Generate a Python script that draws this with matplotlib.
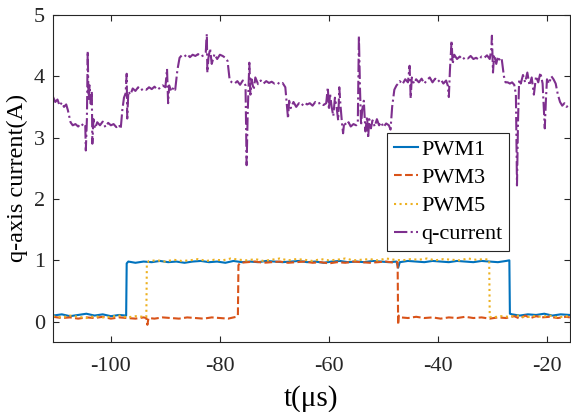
import matplotlib
matplotlib.use("Agg")
import matplotlib.pyplot as plt

plt.rcParams['font.family'] = ['Liberation Serif', 'DejaVu Serif']
plt.rcParams['axes.unicode_minus'] = False

# PWM1 (blue, solid)
t1 = [-110.6, -109, -107.5, -106, -104.5, -103, -101.5, -100, -98.5, -97.2,
      -97.1, -96.8, -95.5, -94, -92.5, -91, -89.5, -88, -86.5, -85,
      -83.5, -82, -80.5, -79, -77.5, -76, -74.5, -73, -71.5, -70,
      -68.5, -67, -65.5, -64, -62.5, -61, -59.5, -58, -56.5, -55,
      -53.5, -52, -50.5, -49, -47.6, -47.3, -47.0, -45.5, -44, -42.5,
      -41, -39.5, -38, -36.5, -35, -33.5, -32, -30.5, -29, -27.5,
      -26.9, -26.8, -26.4, -25, -23.5, -22, -20.5, -19, -17.5, -15.8]
v1 = [0.10, 0.12, 0.09, 0.11, 0.13, 0.10, 0.12, 0.09, 0.11, 0.10,
      0.95, 0.98, 0.96, 0.98, 0.97, 0.99, 0.97, 0.98, 0.96, 0.98,
      0.99, 0.97, 0.98, 0.96, 0.99, 0.97, 0.98, 0.97, 0.99, 0.98,
      0.97, 0.98, 0.99, 0.97, 0.98, 0.96, 0.98, 0.99, 0.97, 0.98,
      0.97, 0.99, 0.98, 0.97, 0.98, 0.88, 0.97, 0.99, 0.98, 0.97,
      0.99, 0.98, 0.97, 0.99, 0.98, 0.97, 0.99, 0.98, 0.97, 0.99,
      1.00, 0.13, 0.12, 0.10, 0.12, 0.11, 0.13, 0.10, 0.12, 0.11]

# PWM3 (orange, dashed)
t3 = [-110.6, -109, -107.5, -106, -104.5, -103, -101.5, -100, -98.5, -97,
      -95.5, -94, -93.5, -93.3, -93.1, -92, -90.5, -89, -87.5, -86,
      -84.5, -83, -81.5, -80, -78.5, -77, -76.7, -76.6, -76.3, -75,
      -73.5, -72, -70.5, -69, -67.5, -66, -64.5, -63, -61.5, -60,
      -58.5, -57, -55.5, -54, -52.5, -51, -49.5, -48, -47.4, -47.3,
      -47.2, -46.8, -45.5, -44, -42.5, -41, -39.5, -38, -36.5, -35,
      -33.5, -32, -30.5, -29, -27.5, -26, -25, -24, -23, -22,
      -21, -19.5, -18, -16.5, -15.8]
v3 = [0.08, 0.06, 0.07, 0.05, 0.07, 0.06, 0.08, 0.05, 0.07, 0.06,
      0.05, 0.07, 0.06, -0.05, 0.06, 0.05, 0.07, 0.06, 0.05, 0.07,
      0.06, 0.05, 0.07, 0.06, 0.05, 0.08, 0.10, 0.92, 0.96, 0.97,
      0.98, 0.96, 0.97, 0.98, 0.96, 0.97, 0.98, 0.96, 0.97, 0.95,
      0.97, 0.96, 0.98, 0.97, 0.96, 0.97, 0.98, 0.96, 0.97, -0.05,
      0.10, 0.07, 0.06, 0.08, 0.06, 0.07, 0.05, 0.07, 0.06, 0.08,
      0.06, 0.07, 0.05, 0.07, 0.06, 0.09, 0.05, 0.10, 0.06, 0.09,
      0.07, 0.08, 0.06, 0.08, 0.07]

# PWM5 (yellow, dotted)
t5 = [-110.6, -109, -107.5, -106, -104.5, -103, -101.5, -100, -98.5, -97,
      -95.5, -94, -93.5, -93.4, -93.0, -91.5, -90, -88.5, -87, -85.5,
      -84, -82.5, -81, -79.5, -78, -76.5, -75, -73.5, -72, -70.5,
      -69, -67.5, -66, -64.5, -63, -61.5, -60, -58.5, -57, -55.5,
      -54, -52.5, -51, -49.5, -48, -46.5, -45, -43.5, -42, -40.5,
      -39, -37.5, -36, -34.5, -33, -31.5, -30.6, -30.5, -30, -28.5,
      -27, -25.5, -24, -22.5, -21, -19.5, -18, -16.5, -15.8]
v5 = [0.09, 0.07, 0.10, 0.08, 0.06, 0.09, 0.07, 0.08, 0.10, 0.07,
      0.09, 0.08, 0.08, 0.95, 0.99, 1.00, 0.98, 1.01, 0.99, 1.00,
      1.02, 0.99, 1.01, 1.00, 1.03, 1.01, 1.00, 1.02, 0.99, 1.01,
      1.03, 1.00, 1.02, 1.01, 0.99, 1.02, 1.00, 1.01, 1.03, 1.00,
      1.01, 1.02, 1.00, 1.03, 1.01, 1.00, 1.02, 1.01, 1.03, 1.00,
      1.02, 1.01, 1.00, 1.03, 1.01, 1.02, 1.01, 0.08, 0.07, 0.09,
      0.08, 0.10, 0.07, 0.09, 0.08, 0.10, 0.07, 0.09, 0.08]

# q-axis current (purple, dash-dot)
tq = [-110.6, -110.2, -109.8, -109.4, -109.0, -108.6, -108.2, -107.9,
      -107.4, -107.0, -106.5, -106.0, -105.5, -105.0, -104.7,
      -104.6, -104.4, -104.25, -104.1, -103.9, -103.7, -103.5, -103.4, -103.2, -102.9,
      -102.5, -102.0, -101.5, -101.0, -100.5, -100.0, -99.5, -99.0, -98.5, -98.2,
      -97.9, -97.6, -97.3, -97.1, -97.0, -96.8, -96.4, -96.0, -95.5, -95.0,
      -94.5, -94.0, -93.5, -93.0, -92.5, -92.0, -91.5, -91.0, -90.5, -90.0,
      -89.7, -89.5, -89.3, -88.9, -88.5, -88.2,
      -87.8, -87.4, -87.0, -86.5, -86.0, -85.5, -85.0, -84.5, -84.0, -83.5,
      -83.0, -82.6, -82.4, -82.3, -82.1, -81.8, -81.5, -81.0, -80.5, -80.0,
      -79.5, -79.0, -78.6,
      -78.2, -77.8, -77.3, -76.8, -76.3, -75.8, -75.3, -75.1, -74.9, -74.6,
      -74.4, -74.2, -73.8, -73.5, -73.0, -72.5, -72.0, -71.5, -71.0, -70.5,
      -70.0, -69.5, -69.0, -68.5, -68.0,
      -67.7, -67.5, -67.3, -67.0, -66.5, -66.0, -65.5, -65.0, -64.5, -64.0,
      -63.5, -63.0, -62.5, -62.0, -61.5, -61.0, -60.5,
      -60.2, -60.0, -59.8, -59.5, -59.2, -58.9, -58.6, -58.3, -58.1, -57.9,
      -57.6, -57.4, -57.2, -56.8, -56.4, -56.0, -55.5, -55.0, -54.7, -54.5,
      -54.3, -54.1, -53.9, -53.6, -53.3, -53.0, -52.8, -52.6, -52.3, -52.0,
      -51.6, -51.2, -50.8, -50.4, -50.0, -49.5, -49.0, -48.7,
      -48.4, -48.0, -47.6, -47.3, -47.0, -46.5, -46.0, -45.5, -45.2, -45.0,
      -44.8, -44.4, -44.0, -43.5, -43.0, -42.5, -42.0, -41.5, -41.0, -40.5,
      -40.0, -39.5, -39.0, -38.5, -38.2, -38.0,
      -37.8, -37.5, -37.3, -37.0, -36.5, -36.0, -35.5, -35.0, -34.5, -34.0,
      -33.5, -33.0, -32.5, -32.0, -31.5, -31.0, -30.5, -30.2, -30.1, -29.9,
      -29.7, -29.3, -29.0, -28.6, -28.3,
      -27.9, -27.6, -27.2, -26.8, -26.4, -26.0, -25.7, -25.5, -25.3, -25.1,
      -24.8, -24.4, -24.0, -23.6, -23.2, -22.8, -22.4, -22.0, -21.6, -21.2,
      -20.8, -20.4, -20.2, -20.0, -19.6, -19.2, -18.8, -18.4,
      -18.0, -17.6, -17.2, -16.8, -16.4, -16.0, -15.8]
vq = [3.66, 3.58, 3.62, 3.52, 3.57, 3.50, 3.54, 3.45,
      3.25, 3.20, 3.22, 3.18, 3.23, 3.19, 3.21,
      2.79, 3.30, 4.41, 3.60, 3.85, 3.55, 3.75, 2.90, 3.30, 3.15,
      3.25, 3.20, 3.26, 3.17, 3.24, 3.20, 3.22, 3.17, 3.21, 3.14,
      3.45, 3.65, 3.72, 4.04, 3.31, 3.75, 3.70, 3.80, 3.76, 3.82,
      3.77, 3.80, 3.78, 3.82, 3.79, 3.83, 3.78, 3.81, 3.85, 3.82,
      4.12, 3.56, 3.85, 3.75, 3.82, 3.78,
      4.10, 4.30, 4.34, 4.32, 4.36, 4.31, 4.35, 4.33, 4.36, 4.32,
      4.34, 4.38, 4.69, 4.06, 4.30, 4.45, 4.20, 4.36, 4.28, 4.35,
      4.33, 4.30, 4.25,
      3.93, 3.90, 3.88, 3.92, 3.86, 3.93, 3.85, 2.55, 3.40, 4.22,
      3.70, 3.95, 3.78, 3.98, 3.87, 3.93, 3.88, 3.92, 3.89, 3.91,
      3.88, 3.90, 3.87, 3.89, 3.82,
      3.52, 3.31, 3.60, 3.48, 3.58, 3.50, 3.56, 3.52, 3.57, 3.54,
      3.56, 3.52, 3.58, 3.55, 3.57, 3.53, 3.56,
      3.82, 3.45, 3.72, 3.50, 3.35, 3.65, 3.50, 3.28, 3.82, 3.55,
      3.23, 3.07, 3.25, 3.20, 3.25, 3.18, 3.22, 3.20, 3.25, 4.66,
      3.80, 3.20, 3.45, 3.60, 3.10, 3.35, 2.99, 3.30, 3.15, 3.28,
      3.18, 3.30, 3.20, 3.25, 3.17, 3.23, 3.20, 3.13,
      3.50, 3.78, 3.85, 3.88, 3.92, 3.87, 3.95, 3.90, 4.17, 3.64,
      3.98, 3.88, 3.95, 3.90, 3.96, 3.88, 3.94, 3.98, 3.90, 3.96,
      3.91, 3.95, 3.88, 3.93, 3.85, 3.66,
      4.10, 4.58, 4.20, 4.35, 4.28, 4.32, 4.27, 4.31, 4.29, 4.33,
      4.28, 4.30, 4.27, 4.32, 4.30, 4.34, 4.28, 4.45, 4.66, 4.06,
      4.35, 4.20, 4.32, 4.25, 4.28,
      4.00, 3.90, 3.90, 3.88, 3.90, 3.86, 3.70, 2.22, 3.30, 3.95,
      3.88, 4.02, 3.90, 4.06, 3.85, 3.98, 3.70, 4.00, 3.90, 4.06,
      3.88, 3.15, 3.60, 3.95, 3.88, 4.00, 3.95, 3.88,
      3.70, 3.58, 3.52, 3.56, 3.50, 3.53, 3.52]

xticks = [-100, -80, -60, -40, -20]
yticks = [0, 1, 2, 3, 4, 5]

fig = plt.figure(figsize=(5.71, 4.12), dpi=100)
ax = fig.add_axes([0.093, 0.170, 0.905, 0.794])

ax.plot(t1, v1, color='#0072BD', lw=1.5, ls='-', label='PWM1')
ax.plot(t3, v3, color='#D95319', lw=1.5, ls='--', label='PWM3')
ax.plot(t5, v5, color='#EDB120', lw=1.5, ls=':', label='PWM5')
ax.plot(tq, vq, color='#7E2F8E', lw=1.5, ls='-.', label='q-current')

ax.set_xlim(-110.6, -15.8)
ax.set_ylim(-0.33, 5)
ax.set_xticks(xticks)
ax.set_yticks(yticks)
ax.tick_params(direction='in', top=True, right=True, length=4, width=0.8,
               labelsize=16, colors='#262626')
ax.tick_params(axis='x', pad=11)
ax.tick_params(axis='y', pad=6)
for s in ax.spines.values():
    s.set_color('#262626')
    s.set_linewidth(0.8)

ax.set_xlabel('t(μs)', fontsize=21, labelpad=6)
ax.set_ylabel('q-axis current(A)', fontsize=17.5, labelpad=4)

leg = ax.legend(loc='upper left', bbox_to_anchor=(0.646, 0.639), borderaxespad=0,
                fontsize=16, frameon=True, fancybox=False, framealpha=1,
                edgecolor='#262626', handlelength=1.08, handletextpad=0.15,
                labelspacing=0.34, borderpad=0.3)
leg.get_frame().set_linewidth(0.8)

fig.savefig('out.png', dpi=100)
